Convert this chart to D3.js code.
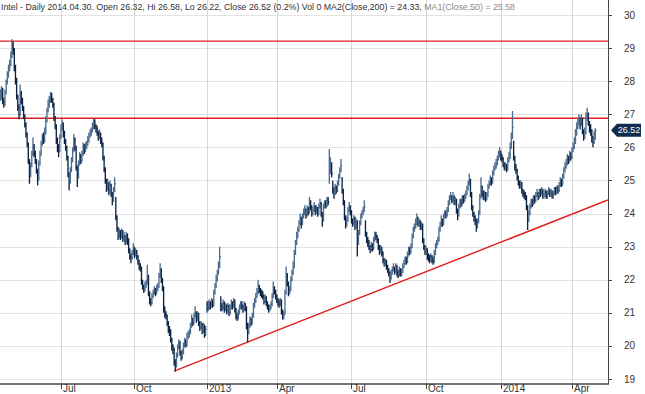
<!DOCTYPE html>
<html>
<head>
<meta charset="utf-8">
<script src="https://cdn.jsdelivr.net/npm/d3@7/dist/d3.min.js"></script>
<style>
body { margin: 0; background: #fff; }
text { font-family: "Liberation Sans", Arial, sans-serif; }
</style>
</head>
<body>
<div id="chart"></div>
<script>
// trading calendar
var firstDay = "2012-04-18";
var lastDay = "2014-04-30";
var holidays = ["2012-05-28", "2012-07-04", "2012-09-03", "2012-10-29", "2012-10-30", "2012-11-22",
    "2012-12-25", "2013-01-01", "2013-01-21", "2013-02-18", "2013-03-29", "2013-05-27", "2013-07-04",
    "2013-09-02", "2013-11-28", "2013-12-25", "2014-01-01", "2014-01-20", "2014-02-17", "2014-04-18"];

// daily closes, highs, lows
var closes = [
    27.55,27.70,27.40,27.30,27.65,27.95,28.20,28.40,28.50,28.75,
    29.05,28.95,28.40,28.00,27.55,27.20,27.00,27.60,27.45,27.20,
    26.95,26.70,26.40,26.10,25.60,25.20,25.45,25.80,26.00,25.80,
    25.60,25.30,25.05,25.50,25.80,26.10,26.30,26.20,26.45,26.80,
    27.10,27.30,27.40,27.55,27.45,27.30,26.90,26.65,26.20,26.00,
    25.90,26.30,26.60,26.70,26.40,26.20,26.00,25.70,25.20,24.95,
    25.30,25.60,25.90,26.20,26.00,25.40,25.10,25.50,25.70,25.60,
    25.80,26.00,25.90,26.05,26.10,26.25,26.35,26.40,26.50,26.60,
    26.75,26.65,26.55,26.45,26.30,26.40,26.20,26.10,25.70,25.35,
    25.00,24.80,24.90,24.70,24.85,24.60,24.40,24.70,24.90,23.90,
    23.55,23.35,23.40,23.30,23.45,23.25,23.30,23.15,23.35,23.20,
    22.90,22.70,22.65,22.80,22.95,22.75,22.85,22.70,22.55,22.40,
    22.35,21.95,21.80,21.70,21.85,21.90,22.10,21.60,21.40,21.30,
    21.50,21.60,21.70,21.60,21.75,21.80,22.10,22.30,22.00,21.75,
    21.10,20.95,20.90,20.70,20.50,20.45,20.20,20.00,19.90,19.50,
    19.40,19.70,19.95,20.10,19.80,19.65,19.80,20.00,20.15,20.05,
    20.30,20.35,20.40,20.60,20.80,20.70,20.90,21.00,20.80,20.95,
    20.70,20.55,20.65,20.45,20.60,20.35,20.50,21.25,21.15,21.30,
    21.20,21.35,21.25,21.60,21.80,22.00,22.20,22.40,22.70,21.20,
    21.15,21.30,21.10,21.20,21.05,21.20,21.00,21.15,21.30,21.20,
    21.35,21.10,20.90,20.85,21.00,21.15,21.25,21.20,21.10,21.25,
    21.15,20.60,20.40,20.60,20.80,20.70,20.90,21.20,21.35,21.50,
    21.60,21.80,21.70,21.60,21.55,21.50,21.35,21.45,21.30,21.20,
    21.10,21.15,21.25,21.50,21.75,21.65,21.50,21.40,21.30,21.25,
    21.35,21.05,20.90,20.95,21.60,22.10,21.90,21.60,21.70,22.00,
    22.20,22.40,22.80,23.10,23.30,23.50,23.70,23.85,23.70,23.90,
    24.00,24.10,23.95,24.15,24.05,24.30,24.20,24.00,24.10,24.20,
    24.05,24.15,24.00,24.20,24.30,24.00,23.80,24.20,24.30,24.25,
    24.40,24.35,25.30,25.50,25.20,24.70,24.60,24.80,24.70,24.90,
    25.10,25.30,25.45,24.70,24.35,23.90,23.70,23.80,24.10,24.20,
    24.05,23.80,23.70,23.85,23.60,23.75,23.10,23.40,23.70,23.90,
    24.00,24.10,24.20,23.40,23.20,23.10,23.00,22.90,23.05,22.95,
    23.20,23.35,23.30,23.20,23.00,22.85,22.95,22.80,22.60,22.50,
    22.55,22.40,22.30,22.20,22.05,22.20,22.30,22.35,22.25,22.40,
    22.20,22.15,22.30,22.20,22.25,22.40,22.50,22.60,22.55,22.75,
    22.90,22.85,23.00,23.30,23.50,23.60,23.70,23.85,23.70,23.75,
    23.60,23.65,23.20,23.00,22.85,22.90,22.70,22.65,22.60,22.70,
    22.60,22.55,22.80,23.00,23.10,23.20,23.50,23.65,23.80,23.70,
    23.90,24.00,23.95,24.10,24.30,24.45,24.50,24.40,24.50,24.35,
    24.40,24.10,23.95,24.20,24.35,24.30,24.45,24.40,24.50,24.60,
    24.75,24.90,25.00,24.60,24.20,24.00,23.90,23.80,23.65,23.75,
    24.00,24.50,24.80,24.60,24.50,24.60,24.45,24.55,24.80,24.90,
    25.00,24.95,25.20,25.35,25.40,25.50,25.65,25.75,25.80,25.70,
    25.65,25.50,25.40,25.45,25.35,25.60,25.70,26.00,26.30,26.60,
    25.70,25.40,25.30,25.10,24.95,24.85,24.90,24.70,24.60,24.55,
    24.50,24.20,23.80,24.00,24.20,24.35,24.30,24.45,24.40,24.55,
    24.60,24.50,24.65,24.60,24.70,24.55,24.60,24.65,24.55,24.60,
    24.70,24.60,24.65,24.55,24.60,24.70,24.65,24.75,24.70,24.85,
    24.95,24.90,25.10,25.30,25.40,25.50,25.65,25.60,25.75,25.70,
    25.90,26.00,26.15,26.40,26.60,26.75,26.80,26.70,26.85,26.50,
    26.35,26.45,26.90,27.00,26.75,26.60,26.50,26.30,26.15,26.40,
    26.52
];
var highs = [
    27.75,27.85,27.80,27.50,27.75,28.05,28.30,28.50,28.65,28.90,
    29.27,29.20,29.00,28.50,28.10,27.60,27.30,27.90,27.70,27.50,
    27.25,27.00,26.75,26.45,26.15,25.65,25.55,25.90,26.30,26.10,
    25.90,25.65,25.35,25.60,25.90,26.20,26.40,26.45,26.60,26.95,
    27.20,27.45,27.55,27.67,27.65,27.50,27.35,26.95,26.70,26.30,
    26.10,26.40,26.70,26.85,26.75,26.50,26.25,26.05,25.75,25.25,
    25.40,25.70,26.00,26.40,26.30,26.05,25.45,25.60,25.85,25.80,
    25.90,26.15,26.10,26.15,26.20,26.35,26.45,26.55,26.60,26.75,
    26.88,26.85,26.70,26.65,26.50,26.55,26.45,26.30,26.15,25.75,
    25.40,25.05,25.05,24.95,25.00,24.90,24.65,24.80,25.10,24.50,
    23.95,23.60,23.55,23.50,23.55,23.50,23.45,23.35,23.45,23.40,
    23.25,22.95,22.80,22.90,23.10,23.00,22.95,22.90,22.75,22.60,
    22.50,22.40,22.00,21.85,21.95,22.00,22.45,22.15,21.65,21.45,
    21.60,21.70,21.80,21.75,21.85,21.90,22.20,22.50,22.35,22.05,
    21.80,21.20,21.05,20.95,20.75,20.60,20.50,20.25,20.05,19.95,
    19.60,19.80,20.05,20.20,20.15,19.85,19.90,20.10,20.25,20.20,
    20.40,20.45,20.50,20.70,20.95,20.85,21.00,21.20,21.05,21.05,
    21.00,20.75,20.75,20.70,20.70,20.65,20.60,21.35,21.35,21.40,
    21.35,21.45,21.40,21.70,21.90,22.15,22.30,22.55,23.00,21.50,
    21.30,21.40,21.35,21.30,21.25,21.30,21.25,21.25,21.40,21.35,
    21.45,21.40,21.15,21.00,21.10,21.25,21.35,21.35,21.25,21.35,
    21.30,21.20,20.70,20.70,20.90,20.85,21.00,21.30,21.45,21.60,
    21.75,22.00,21.85,21.75,21.70,21.65,21.55,21.55,21.50,21.35,
    21.25,21.25,21.35,21.60,21.95,21.80,21.70,21.55,21.45,21.40,
    21.45,21.40,21.10,21.05,21.70,22.40,22.20,21.95,21.80,22.10,
    22.30,22.55,22.90,23.20,23.45,23.60,23.80,24.00,23.90,24.00,
    24.15,24.25,24.15,24.25,24.20,24.50,24.40,24.25,24.20,24.35,
    24.25,24.25,24.20,24.30,24.45,24.35,24.05,24.30,24.40,24.40,
    24.50,24.50,25.95,25.70,25.55,25.00,24.80,24.90,24.85,25.00,
    25.20,25.40,25.65,25.10,24.75,24.40,23.95,23.90,24.20,24.35,
    24.25,24.10,23.85,23.95,23.90,23.85,23.80,23.50,23.80,24.00,
    24.10,24.20,24.40,23.80,23.45,23.30,23.20,23.05,23.15,23.10,
    23.30,23.45,23.45,23.35,23.25,23.05,23.05,23.00,22.85,22.65,
    22.65,22.60,22.45,22.35,22.25,22.30,22.40,22.50,22.40,22.50,
    22.45,22.30,22.40,22.35,22.35,22.50,22.60,22.70,22.70,22.85,
    23.00,23.00,23.10,23.40,23.60,23.70,23.85,24.00,23.90,23.85,
    23.80,23.75,23.70,23.25,23.05,23.00,22.95,22.80,22.75,22.80,
    22.75,22.70,22.90,23.10,23.20,23.30,23.60,23.75,23.95,23.85,
    24.00,24.10,24.10,24.20,24.40,24.55,24.65,24.55,24.65,24.55,
    24.50,24.45,24.15,24.30,24.45,24.45,24.55,24.55,24.60,24.70,
    24.85,25.00,25.20,25.05,24.65,24.25,24.05,23.95,23.85,23.85,
    24.10,24.60,25.10,24.85,24.70,24.70,24.65,24.65,24.90,25.00,
    25.15,25.10,25.30,25.45,25.55,25.65,25.75,25.90,26.00,25.90,
    25.80,25.70,25.55,25.55,25.50,25.70,25.85,26.15,26.45,27.10,
    26.20,25.75,25.50,25.35,25.15,25.00,25.00,24.95,24.75,24.70,
    24.65,24.55,24.25,24.10,24.30,24.45,24.45,24.55,24.55,24.65,
    24.75,24.65,24.75,24.75,24.80,24.75,24.70,24.75,24.70,24.70,
    24.80,24.75,24.75,24.70,24.70,24.80,24.80,24.85,24.85,24.95,
    25.10,25.05,25.20,25.40,25.55,25.65,25.80,25.75,25.90,25.85,
    26.00,26.15,26.30,26.55,26.75,26.90,27.00,26.90,27.00,26.90,
    26.55,26.60,27.05,27.20,27.05,26.80,26.70,26.55,26.35,26.50,
    26.58
];
var lows = [
    27.40,27.45,27.30,27.20,27.25,27.60,27.90,28.10,28.30,28.45,
    28.70,28.80,28.30,27.90,27.45,27.10,26.85,26.95,27.30,27.10,
    26.85,26.60,26.30,26.00,25.50,24.90,25.10,25.40,25.75,25.70,
    25.50,25.20,24.85,25.00,25.45,25.75,26.05,26.10,26.15,26.40,
    26.75,27.05,27.20,27.35,27.35,27.20,26.80,26.55,26.10,25.85,
    25.70,25.85,26.25,26.50,26.30,26.10,25.90,25.60,25.10,24.70,
    24.90,25.25,25.55,25.85,25.90,25.30,24.80,25.05,25.45,25.50,
    25.55,25.75,25.80,25.85,25.95,26.05,26.15,26.30,26.35,26.45,
    26.55,26.55,26.45,26.35,26.20,26.25,26.10,26.00,25.60,25.25,
    24.90,24.65,24.70,24.55,24.60,24.50,24.25,24.35,24.65,23.80,
    23.45,23.20,23.25,23.20,23.25,23.15,23.15,23.05,23.10,23.05,
    22.80,22.60,22.50,22.60,22.75,22.65,22.70,22.60,22.45,22.30,
    22.25,21.85,21.70,21.60,21.65,21.75,21.85,21.50,21.25,21.20,
    21.25,21.45,21.55,21.50,21.55,21.65,21.75,22.05,21.90,21.65,
    21.00,20.85,20.80,20.60,20.40,20.30,20.10,19.85,19.75,19.40,
    19.23,19.35,19.65,19.90,19.70,19.55,19.60,19.75,19.95,19.95,
    20.00,20.20,20.25,20.35,20.55,20.60,20.65,20.85,20.70,20.75,
    20.60,20.45,20.50,20.35,20.40,20.25,20.30,21.00,21.05,21.10,
    21.10,21.15,21.15,21.20,21.55,21.75,21.95,22.15,22.35,21.05,
    21.05,21.10,21.00,21.05,20.95,21.00,20.90,20.95,21.10,21.10,
    21.15,21.00,20.80,20.75,20.80,20.95,21.10,21.10,21.00,21.05,
    21.05,20.50,20.12,20.35,20.55,20.60,20.65,20.85,21.15,21.30,
    21.45,21.55,21.60,21.50,21.45,21.40,21.25,21.30,21.20,21.10,
    21.00,21.05,21.10,21.20,21.45,21.55,21.40,21.30,21.20,21.15,
    21.20,20.95,20.80,20.80,20.95,21.55,21.80,21.50,21.55,21.65,
    21.95,22.15,22.35,22.75,23.05,23.25,23.45,23.65,23.55,23.65,
    23.85,23.95,23.85,23.90,23.95,24.00,24.10,23.90,23.95,24.05,
    23.95,24.00,23.90,23.95,24.15,23.90,23.60,23.75,24.15,24.15,
    24.20,24.25,24.90,25.20,25.10,24.60,24.45,24.55,24.60,24.65,
    24.85,25.05,25.25,24.60,24.25,23.80,23.55,23.60,23.75,24.05,
    23.95,23.70,23.60,23.65,23.50,23.55,22.70,23.05,23.35,23.65,
    23.85,23.95,24.05,23.30,23.10,23.00,22.90,22.80,22.85,22.85,
    22.90,23.15,23.20,23.10,22.90,22.75,22.80,22.70,22.50,22.40,
    22.40,22.30,22.20,22.10,21.90,22.00,22.15,22.25,22.15,22.20,
    22.10,22.05,22.10,22.10,22.10,22.20,22.35,22.45,22.45,22.50,
    22.70,22.75,22.80,22.95,23.25,23.45,23.55,23.65,23.60,23.60,
    23.50,23.50,23.10,22.90,22.75,22.75,22.60,22.55,22.50,22.55,
    22.50,22.45,22.50,22.75,22.95,23.05,23.15,23.45,23.60,23.60,
    23.65,23.85,23.85,23.90,24.05,24.25,24.40,24.30,24.35,24.25,
    24.25,24.00,23.80,23.90,24.15,24.20,24.25,24.30,24.35,24.45,
    24.55,24.70,24.85,24.50,24.10,23.90,23.75,23.65,23.45,23.55,
    23.70,23.95,24.45,24.50,24.40,24.40,24.35,24.40,24.50,24.75,
    24.85,24.85,24.90,25.15,25.30,25.35,25.45,25.60,25.70,25.60,
    25.55,25.40,25.30,25.30,25.25,25.30,25.55,25.65,25.95,26.25,
    25.60,25.30,25.20,25.00,24.85,24.75,24.75,24.60,24.50,24.45,
    24.40,24.10,23.50,23.75,23.95,24.15,24.20,24.25,24.30,24.35,
    24.50,24.40,24.45,24.50,24.55,24.45,24.45,24.50,24.45,24.45,
    24.55,24.50,24.50,24.45,24.45,24.55,24.55,24.60,24.60,24.65,
    24.80,24.80,24.85,25.05,25.25,25.35,25.45,25.50,25.55,25.60,
    25.65,25.85,25.95,26.10,26.35,26.55,26.65,26.55,26.65,26.40,
    26.20,26.25,26.40,26.80,26.65,26.45,26.35,26.15,26.00,26.10,
    26.22
];

var priceTicks = [19, 20, 21, 22, 23, 24, 25, 26, 27, 28, 29, 30];
var levels = [29.21, 26.88];                 // horizontal red lines
var trendDates = ["2012-11-20", "2014-04-30"];
var trendValues = [19.24, 24.26];
var titleMain = "Intel - Daily 2014.04.30. Open 26.32, Hi 26.58, Lo 26.22, Close 26.52 (0.2%) Vol 0 MA2(Close,200) = 24.33, ";
var titleMa = "MA1(Close,50) = 25.58";

var width = 645, height = 394;
var plotRight = 608, plotBottom = 384;

var parse = d3.timeParse("%Y-%m-%d");
var fmt = d3.timeFormat("%Y-%m-%d");
var days = d3.timeDay.range(parse(firstDay), d3.timeDay.offset(parse(lastDay), 1))
    .filter(function (d) {
        return d.getDay() !== 0 && d.getDay() !== 6 && holidays.indexOf(fmt(d)) < 0;
    });

var data = days.map(function (d, i) {
    return { date: d, close: closes[i], high: highs[i], low: lows[i], prev: i ? closes[i - 1] : closes[i] };
});

var x = d3.scaleLinear().domain([0, data.length - 1]).range([0.3, 595.3]);
var y = d3.scaleLinear().domain([19, 30]).range([379, 15]);

var svg = d3.select('#chart')
    .append('svg')
    .attr('width', width)
    .attr('height', height)
    .style('display', 'block');

svg.append('rect').attr('width', width).attr('height', height).attr('fill', '#fff');

svg.append('clipPath').attr('id', 'plot')
    .append('rect').attr('x', 0).attr('y', 0).attr('width', plotRight).attr('height', plotBottom);

// quarter ticks
var quarters = data.map(function (d, i) { return i; }).filter(function (i) {
    return i > 0 && data[i].date.getMonth() !== data[i - 1].date.getMonth() && data[i].date.getMonth() % 3 === 0;
});

// grid
svg.append('g').selectAll('line')
    .data(priceTicks)
    .enter().append('line')
    .attr('x1', 0).attr('x2', plotRight)
    .attr('y1', function (d) { return Math.round(y(d)) + 0.5; })
    .attr('y2', function (d) { return Math.round(y(d)) + 0.5; })
    .attr('stroke', '#e3e3e3');

svg.append('g').selectAll('line')
    .data(quarters)
    .enter().append('line')
    .attr('x1', function (i) { return Math.round(x(i)) + 0.5; })
    .attr('x2', function (i) { return Math.round(x(i)) + 0.5; })
    .attr('y1', 0).attr('y2', plotBottom)
    .attr('stroke', '#d6d6d6');

// red lines
var red = svg.append('g').attr('clip-path', 'url(#plot)');
red.selectAll('line.level')
    .data(levels)
    .enter().append('line')
    .attr('class', 'level')
    .attr('x1', 0).attr('x2', plotRight)
    .attr('y1', function (d) { return y(d); })
    .attr('y2', function (d) { return y(d); })
    .attr('stroke', '#e0201c').attr('stroke-width', 1.4);

var dayIndex = function (s) { return days.map(fmt).indexOf(s); };
var tx1 = x(dayIndex(trendDates[0])), ty1 = y(trendValues[0]);
var tx2 = x(dayIndex(trendDates[1])), ty2 = y(trendValues[1]);
var slope = (ty2 - ty1) / (tx2 - tx1);
red.append('line')
    .attr('x1', tx1).attr('y1', ty1)
    .attr('x2', plotRight).attr('y2', ty1 + slope * (plotRight - tx1))
    .attr('stroke', '#e0201c').attr('stroke-width', 1.4);

// OHLC bars
svg.append('g').attr('clip-path', 'url(#plot)')
    .selectAll('path')
    .data(data)
    .enter().append('path')
    .attr('d', function (d, i) {
        var cx = x(i);
        return 'M' + cx + ',' + y(d.high) + 'V' + y(d.low) +
            'M' + cx + ',' + y(d.close) + 'H' + (cx + 1.2);
    })
    .attr('fill', 'none')
    .attr('stroke', function (d) { return d.close >= d.prev ? '#4d6d90' : '#0b2444'; })
    .attr('stroke-width', 1.35);

// axes
svg.append('line')
    .attr('x1', plotRight + 0.5).attr('x2', plotRight + 0.5)
    .attr('y1', 0).attr('y2', plotBottom)
    .attr('stroke', '#444');
svg.append('line')
    .attr('x1', 0).attr('x2', plotRight + 1)
    .attr('y1', plotBottom).attr('y2', plotBottom)
    .attr('stroke', '#444').attr('stroke-width', 1.6);

var yAxis = svg.append('g');
yAxis.selectAll('line')
    .data(priceTicks)
    .enter().append('line')
    .attr('x1', plotRight).attr('x2', plotRight + 4)
    .attr('y1', function (d) { return Math.round(y(d)) + 0.5; })
    .attr('y2', function (d) { return Math.round(y(d)) + 0.5; })
    .attr('stroke', '#444');
yAxis.selectAll('text')
    .data(priceTicks)
    .enter().append('text')
    .attr('x', 624)
    .attr('y', function (d) { return y(d); })
    .attr('dy', '0.35em')
    .attr('font-size', 10)
    .attr('fill', '#333')
    .text(function (d) { return d; });

var monthFmt = d3.timeFormat('%b');
var xAxis = svg.append('g');
xAxis.selectAll('line')
    .data(quarters)
    .enter().append('line')
    .attr('x1', function (i) { return Math.round(x(i)) + 0.5; })
    .attr('x2', function (i) { return Math.round(x(i)) + 0.5; })
    .attr('y1', plotBottom).attr('y2', plotBottom + 5)
    .attr('stroke', '#444');
xAxis.selectAll('text')
    .data(quarters)
    .enter().append('text')
    .attr('x', function (i) { return Math.round(x(i)) + 2; })
    .attr('y', 392)
    .attr('font-size', 10)
    .attr('fill', '#333')
    .text(function (i) {
        var d = data[i].date;
        return d.getMonth() === 0 ? d.getFullYear() : monthFmt(d);
    });

// last price tag
var last = data[data.length - 1];
var ly = y(last.close);
svg.append('path')
    .attr('d', 'M611,' + ly + 'L617,' + (ly - 6.5) + 'H641V' + (ly + 6.5) + 'H617Z')
    .attr('fill', '#0e2d4e');
svg.append('text')
    .attr('x', 629).attr('y', ly)
    .attr('dy', '0.35em')
    .attr('text-anchor', 'middle')
    .attr('font-size', 9)
    .attr('fill', '#fff')
    .text(d3.format('.2f')(last.close));

// title
var title = svg.append('text')
    .attr('x', 1).attr('y', 10)
    .attr('font-size', 8.8)
    .attr('fill', '#333');
title.append('tspan').text(titleMain);
title.append('tspan').attr('fill', '#8a8a8a').text(titleMa);
</script>
</body>
</html>
